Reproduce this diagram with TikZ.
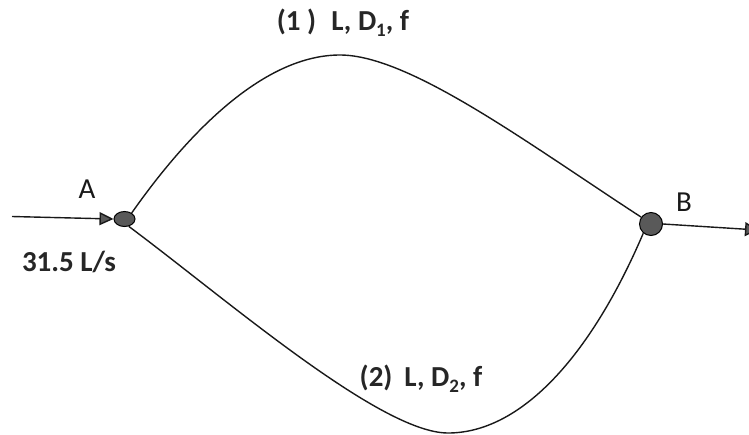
\documentclass[tikz,border=0pt]{standalone}
\usepackage{fontspec}
\setmainfont{Carlito}
\usetikzlibrary{arrows.meta,shapes.geometric}
\newcommand{\subd}[1]{\raisebox{-0.2em}{\fontsize{19}{22}\selectfont #1}}
\tikzset{pipe/.style={line width=1.4pt,black!90},
 lbl/.style={font=\fontsize{29}{32}\selectfont,inner sep=0pt,text=black!90},
 blbl/.style={font=\fontsize{29}{32}\selectfont\bfseries,inner sep=0pt,text=black!85},
 junction/.style={draw=black,line width=1pt,fill=black!65,ellipse,inner sep=0pt}}
\begin{document}
\begin{tikzpicture}[x=1pt,y=-1pt]
\useasboundingbox (0,0) rectangle (749,434);
\node[junction,minimum width=21pt,minimum height=15pt] (A) at (124.5,219) {};
\node[junction,circle,minimum size=23pt] (B) at (651,224) {};
\coordinate (in) at (12,216.5);
\coordinate (out) at (758,230);
\draw[pipe,-{Triangle[length=14pt,width=13pt,fill=black!65]}] (in) -- (A.west);
\draw[pipe,-{Triangle[length=13pt,width=14pt,fill=black!65]}] (B.east) -- (out);
\draw[pipe] (A.40) .. controls (190,130) and (265,55) .. (340,55)
  .. controls (410,55) and (530,145) .. (B.145);
\draw[pipe] (A.-60) .. controls (225,298) and (380,433) .. (448,433)
  .. controls (520,433) and (590,358) .. (B.-130);
\node[lbl] (tA) at (87,189) {A};
\node[lbl] (tB) at (684,202) {B};
\node[blbl] (q) at (69,262) {31.5 L/s};
\node[blbl] (p1) at (343,23) {(1 )\hspace{15pt}L, D\subd{1}, f};
\node[blbl] (p2) at (421,379) {(2)\hspace{12pt}L, D\subd{2}, f};
\end{tikzpicture}
\end{document}
